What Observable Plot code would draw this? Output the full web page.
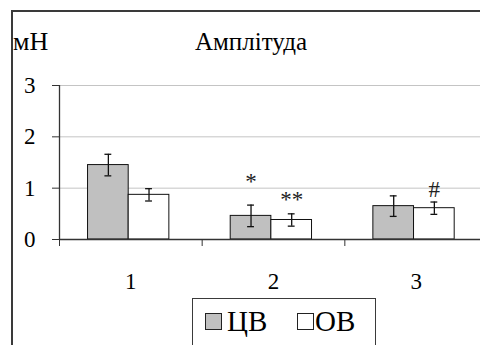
<!DOCTYPE html>
<html>
<head>
<meta charset="utf-8">
<script src="https://cdn.jsdelivr.net/npm/d3@7"></script>
<script src="https://cdn.jsdelivr.net/npm/@observablehq/plot@0.6"></script>
<style>
  html, body { margin: 0; padding: 0; background: #fff; }
  #wrap { position: relative; width: 480px; height: 345px; overflow: hidden; background: #fff; color: #000; }
  #frame { position: absolute; left: 11px; top: 10px; width: 520px; height: 400px;
           border-left: 2px solid #3a3a3a; border-top: 2px solid #3a3a3a; }
  #chart { position: absolute; left: 0; top: 0; }
  .lbl { position: absolute; white-space: nowrap; line-height: 1; font-family: 'Times New Roman', Tinos, 'Liberation Serif', serif; }
  #legend { position: absolute; left: 192px; top: 298px; width: 182px; height: 80px;
            border: 1px solid #3a3a3a; background: #fff; }
  .sw { position: absolute; width: 15px; height: 15px; border: 1px solid #222; }
</style>
</head>
<body>
<div id="wrap">
  <div id="frame"></div>
  <div id="chart"></div>
  <div class="lbl" id="unit" style="left:13px;top:29px;font-size:26px;">мН</div>
  <div class="lbl" id="title" style="left:151px;top:29px;width:200px;text-align:center;font-size:25px;">Амплітуда</div>
  <div id="legend"></div>
</div>
<script>
// ---- data ----
const categories = [1, 2, 3];
const seriesNames = ["ЦВ", "ОВ"];
const cvMean = [1.45, 0.46, 0.65];
const cvErr  = [0.21, 0.21, 0.20];
const ovMean = [0.87, 0.38, 0.61];
const ovErr  = [0.12, 0.12, 0.12];
const yTicks = [0, 1, 2, 3];
const annoCategory = [2, 2, 3];
const annoSeries   = ["ЦВ", "ОВ", "ОВ"];
const annoLabel    = ["*", "**", "#"];
const annoValue    = [1.13, 0.78, 0.98];

// ---- styling / layout ----
const seriesFill = {"ЦВ": "#c0c0c0", "ОВ": "#ffffff"};
const barWidth = 0.285;       // in category units
const groupShift = -0.015;
const capHalf = 0.024;
const FONT = "'Times New Roman', Tinos, 'Liberation Serif', serif";

const means = {"ЦВ": cvMean, "ОВ": ovMean};
const errs = {"ЦВ": cvErr, "ОВ": ovErr};
const rows = [];
categories.forEach((c, i) => {
  seriesNames.forEach((s, j) => {
    const x1 = c + groupShift + (j - 1) * barWidth;
    rows.push({cat: c, series: s, mean: means[s][i], err: errs[s][i],
               x1, x2: x1 + barWidth, xc: x1 + barWidth / 2});
  });
});
const rowOf = (c, s) => rows.find(r => r.cat === c && r.series === s);
const annos = annoLabel.map((t, k) => ({label: t, xc: rowOf(annoCategory[k], annoSeries[k]).xc, y: annoValue[k]}));
const boundaries = categories.map(c => c - 0.5).concat([categories[categories.length - 1] + 0.5]);

const chart = Plot.plot({
  width: 480,
  height: 345,
  marginLeft: 59,
  marginRight: 0,
  marginTop: 85,
  marginBottom: 106,
  style: {fontFamily: FONT, fontSize: "22px", color: "#000", background: "transparent"},
  x: {type: "linear", domain: [0.5, 3.5], range: [59, 487]},
  y: {domain: [0, 3], range: [239, 85]},
  marks: [
    Plot.ruleY(yTicks.slice(1), {stroke: "#c4c4c4", strokeWidth: 1}),
    Plot.rectY(rows, {x1: "x1", x2: "x2", y1: 0, y2: "mean",
      fill: d => seriesFill[d.series], stroke: "#111", strokeWidth: 1}),
    Plot.ruleX(rows, {x: "xc", y1: d => d.mean - d.err, y2: d => d.mean + d.err, stroke: "#111", strokeWidth: 1.3}),
    Plot.ruleY(rows, {y: d => d.mean + d.err, x1: d => d.xc - capHalf, x2: d => d.xc + capHalf, stroke: "#111", strokeWidth: 1.3}),
    Plot.ruleY(rows, {y: d => d.mean - d.err, x1: d => d.xc - capHalf, x2: d => d.xc + capHalf, stroke: "#111", strokeWidth: 1.3}),
    Plot.text(annos, {x: "xc", y: "y", text: "label", fontSize: 23, fill: "#222", fontFamily: FONT}),
    Plot.ruleX([0.5], {y1: 0, y2: 3, stroke: "#333", strokeWidth: 1.3}),
    Plot.ruleY([0], {stroke: "#333", strokeWidth: 1.3}),
    Plot.axisY(yTicks, {tickSize: 7, tickPadding: 17, stroke: "#333", fontSize: 23, fontFamily: FONT, tickFormat: d => String(d), label: null}),
    Plot.axisX(boundaries, {tickSize: 7, tickFormat: () => "", stroke: "#333", label: null}),
    Plot.axisX(categories, {tickSize: 0, tickPadding: 33, fontSize: 23, fontFamily: FONT, tickFormat: d => String(d), label: null})
  ]
});
document.getElementById("chart").appendChild(chart);

// legend
const legend = document.getElementById("legend");
const legendItems = [
  {name: seriesNames[0], sw: 12, tx: 34},
  {name: seriesNames[1], sw: 104, tx: 122}
];
legendItems.forEach(it => {
  const sw = document.createElement("div");
  sw.className = "sw";
  sw.style.left = it.sw + "px";
  sw.style.top = "14px";
  sw.style.background = seriesFill[it.name];
  legend.appendChild(sw);
  const tx = document.createElement("div");
  tx.className = "lbl";
  tx.style.left = it.tx + "px";
  tx.style.top = "8px";
  tx.style.fontSize = "29px";
  tx.textContent = it.name;
  legend.appendChild(tx);
});
</script>
</body>
</html>
